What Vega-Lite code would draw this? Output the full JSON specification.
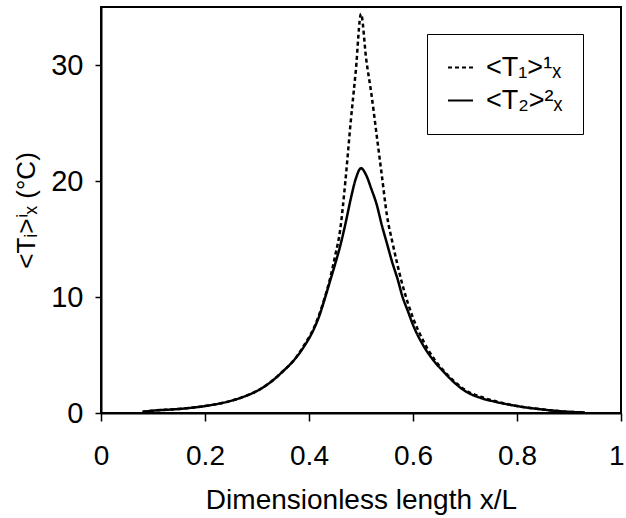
{
  "$schema": "https://vega.github.io/schema/vega-lite/v6.json",
  "autosize": {"type": "none"},
  "width": 520,
  "height": 406,
  "padding": {"left": 101, "top": 7, "right": 5, "bottom": 105},
  "background": "white",
  "config": {
    "font": "Liberation Sans",
    "view": {"stroke": "black", "strokeWidth": 2},
    "axis": {"grid": false, "domainColor": "black", "domainWidth": 2, "tickColor": "black", "tickWidth": 1.5, "labelColor": "black", "titleColor": "black", "labelFont": "Liberation Sans", "titleFont": "Liberation Sans", "titleFontWeight": "normal"}
  },
  "data": {"values": [
    {"x": 0.08, "y": 0.1, "s": "<T₁>¹ₓ"}, {"x": 0.10, "y": 0.2, "s": "<T₁>¹ₓ"}, {"x": 0.15, "y": 0.35, "s": "<T₁>¹ₓ"}, {"x": 0.20, "y": 0.6, "s": "<T₁>¹ₓ"}, {"x": 0.25, "y": 1.05, "s": "<T₁>¹ₓ"}, {"x": 0.28, "y": 1.5, "s": "<T₁>¹ₓ"}, {"x": 0.30, "y": 1.9, "s": "<T₁>¹ₓ"}, {"x": 0.33, "y": 2.8, "s": "<T₁>¹ₓ"}, {"x": 0.35, "y": 3.6, "s": "<T₁>¹ₓ"}, {"x": 0.37, "y": 4.5, "s": "<T₁>¹ₓ"}, {"x": 0.39, "y": 5.8, "s": "<T₁>¹ₓ"}, {"x": 0.41, "y": 7.4, "s": "<T₁>¹ₓ"}, {"x": 0.43, "y": 9.9, "s": "<T₁>¹ₓ"}, {"x": 0.44, "y": 11.5, "s": "<T₁>¹ₓ"}, {"x": 0.45, "y": 13.5, "s": "<T₁>¹ₓ"}, {"x": 0.46, "y": 15.8, "s": "<T₁>¹ₓ"}, {"x": 0.47, "y": 20.0, "s": "<T₁>¹ₓ"}, {"x": 0.48, "y": 25.0, "s": "<T₁>¹ₓ"}, {"x": 0.49, "y": 29.5, "s": "<T₁>¹ₓ"}, {"x": 0.50, "y": 34.4, "s": "<T₁>¹ₓ"}, {"x": 0.51, "y": 30.5, "s": "<T₁>¹ₓ"}, {"x": 0.52, "y": 27.5, "s": "<T₁>¹ₓ"}, {"x": 0.53, "y": 24.0, "s": "<T₁>¹ₓ"}, {"x": 0.54, "y": 20.5, "s": "<T₁>¹ₓ"}, {"x": 0.55, "y": 17.0, "s": "<T₁>¹ₓ"}, {"x": 0.56, "y": 14.8, "s": "<T₁>¹ₓ"}, {"x": 0.57, "y": 12.8, "s": "<T₁>¹ₓ"}, {"x": 0.58, "y": 11.0, "s": "<T₁>¹ₓ"}, {"x": 0.59, "y": 9.5, "s": "<T₁>¹ₓ"}, {"x": 0.60, "y": 8.2, "s": "<T₁>¹ₓ"}, {"x": 0.62, "y": 6.2, "s": "<T₁>¹ₓ"}, {"x": 0.64, "y": 4.7, "s": "<T₁>¹ₓ"}, {"x": 0.66, "y": 3.6, "s": "<T₁>¹ₓ"}, {"x": 0.68, "y": 2.7, "s": "<T₁>¹ₓ"}, {"x": 0.70, "y": 2.0, "s": "<T₁>¹ₓ"}, {"x": 0.73, "y": 1.4, "s": "<T₁>¹ₓ"}, {"x": 0.76, "y": 1.0, "s": "<T₁>¹ₓ"}, {"x": 0.80, "y": 0.6, "s": "<T₁>¹ₓ"}, {"x": 0.85, "y": 0.3, "s": "<T₁>¹ₓ"}, {"x": 0.90, "y": 0.1, "s": "<T₁>¹ₓ"}, {"x": 0.93, "y": 0.05, "s": "<T₁>¹ₓ"},
    {"x": 0.08, "y": 0.1, "s": "<T₂>²ₓ"}, {"x": 0.10, "y": 0.2, "s": "<T₂>²ₓ"}, {"x": 0.15, "y": 0.35, "s": "<T₂>²ₓ"}, {"x": 0.20, "y": 0.6, "s": "<T₂>²ₓ"}, {"x": 0.25, "y": 1.05, "s": "<T₂>²ₓ"}, {"x": 0.28, "y": 1.5, "s": "<T₂>²ₓ"}, {"x": 0.30, "y": 1.9, "s": "<T₂>²ₓ"}, {"x": 0.33, "y": 2.8, "s": "<T₂>²ₓ"}, {"x": 0.35, "y": 3.6, "s": "<T₂>²ₓ"}, {"x": 0.37, "y": 4.5, "s": "<T₂>²ₓ"}, {"x": 0.39, "y": 5.7, "s": "<T₂>²ₓ"}, {"x": 0.41, "y": 7.3, "s": "<T₂>²ₓ"}, {"x": 0.42, "y": 8.4, "s": "<T₂>²ₓ"}, {"x": 0.43, "y": 9.8, "s": "<T₂>²ₓ"}, {"x": 0.44, "y": 11.3, "s": "<T₂>²ₓ"}, {"x": 0.45, "y": 12.8, "s": "<T₂>²ₓ"}, {"x": 0.46, "y": 14.4, "s": "<T₂>²ₓ"}, {"x": 0.47, "y": 16.3, "s": "<T₂>²ₓ"}, {"x": 0.48, "y": 18.4, "s": "<T₂>²ₓ"}, {"x": 0.49, "y": 20.2, "s": "<T₂>²ₓ"}, {"x": 0.50, "y": 21.1, "s": "<T₂>²ₓ"}, {"x": 0.51, "y": 20.5, "s": "<T₂>²ₓ"}, {"x": 0.52, "y": 19.3, "s": "<T₂>²ₓ"}, {"x": 0.53, "y": 18.0, "s": "<T₂>²ₓ"}, {"x": 0.54, "y": 16.2, "s": "<T₂>²ₓ"}, {"x": 0.55, "y": 14.6, "s": "<T₂>²ₓ"}, {"x": 0.56, "y": 13.0, "s": "<T₂>²ₓ"}, {"x": 0.57, "y": 11.6, "s": "<T₂>²ₓ"}, {"x": 0.58, "y": 10.0, "s": "<T₂>²ₓ"}, {"x": 0.59, "y": 8.8, "s": "<T₂>²ₓ"}, {"x": 0.60, "y": 7.6, "s": "<T₂>²ₓ"}, {"x": 0.62, "y": 5.8, "s": "<T₂>²ₓ"}, {"x": 0.64, "y": 4.5, "s": "<T₂>²ₓ"}, {"x": 0.66, "y": 3.5, "s": "<T₂>²ₓ"}, {"x": 0.68, "y": 2.6, "s": "<T₂>²ₓ"}, {"x": 0.70, "y": 1.9, "s": "<T₂>²ₓ"}, {"x": 0.73, "y": 1.3, "s": "<T₂>²ₓ"}, {"x": 0.76, "y": 0.95, "s": "<T₂>²ₓ"}, {"x": 0.80, "y": 0.6, "s": "<T₂>²ₓ"}, {"x": 0.85, "y": 0.3, "s": "<T₂>²ₓ"}, {"x": 0.90, "y": 0.1, "s": "<T₂>²ₓ"}, {"x": 0.93, "y": 0.05, "s": "<T₂>²ₓ"}
  ]},
  "mark": {"type": "line", "color": "black", "strokeWidth": 2.5, "interpolate": "monotone"},
  "encoding": {
    "x": {"field": "x", "type": "quantitative", "scale": {"domain": [0, 1], "nice": false},
      "axis": {"values": [0, 0.2, 0.4, 0.6, 0.8, 1], "format": "~g", "tickSize": 8, "labelFontSize": 28, "labelPadding": 21, "title": "Dimensionless length x/L", "titleFontSize": 28, "titlePadding": 16, "labelFlush": false,
        "labelAlign": {"condition": {"test": "datum.value === 1", "value": "right"}, "value": "center"},
        "labelOffset": {"condition": {"test": "datum.value === 1", "value": 3}, "value": 0}}},
    "y": {"field": "y", "type": "quantitative", "scale": {"domain": [0, 35], "nice": false},
      "axis": {"values": [0, 10, 20, 30], "tickSize": 6, "labelFontSize": 29, "labelPadding": 12, "title": "<Tᵢ>ⁱₓ (°C)", "titleFontSize": 26, "titlePadding": 11}},
    "strokeDash": {"field": "s", "type": "nominal",
      "scale": {"domain": ["<T₁>¹ₓ", "<T₂>²ₓ"], "range": [[4, 3], [1, 0]]},
      "legend": {"title": null, "orient": "none", "legendX": 326, "legendY": 27, "strokeColor": "black", "fillColor": "white", "padding": 20, "labelFontSize": 27, "labelColor": "black", "symbolType": "stroke", "symbolSize": 625, "symbolStrokeWidth": 2, "symbolStrokeColor": "black", "rowPadding": 5, "labelOffset": 12}}
  }
}
